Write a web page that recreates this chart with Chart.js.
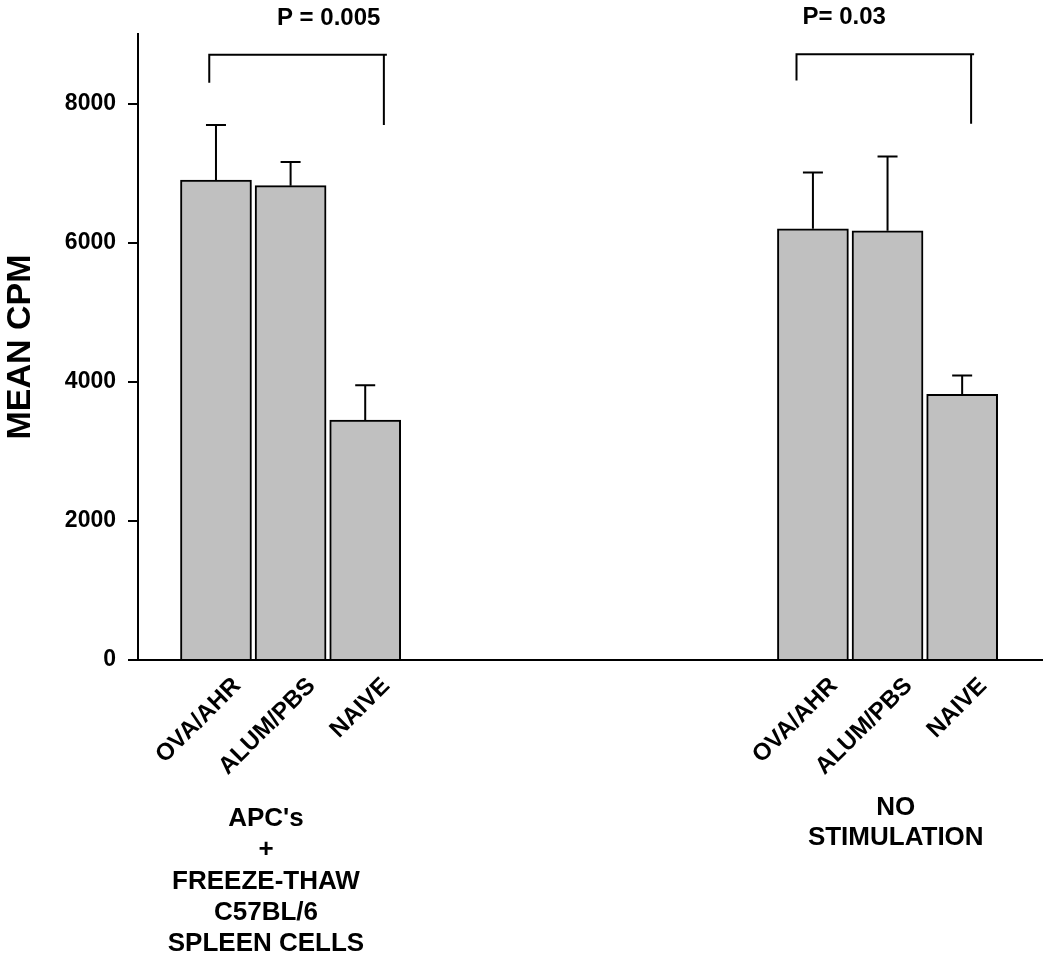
<!DOCTYPE html>
<html>
<head>
<meta charset="utf-8">
<script src="https://cdn.jsdelivr.net/npm/chart.js@4/dist/chart.umd.min.js"></script>
<style>
  html, body { margin: 0; padding: 0; background: #fff; }
  #wrap { width: 1050px; height: 957px; }
</style>
</head>
<body>
<div id="wrap"><canvas id="grafico" width="1050" height="957"></canvas></div>
<script>
// datos
const xPositions = [1, 2, 3, 9, 10, 11];
const categories = ['OVA/AHR', 'ALUM/PBS', 'NAIVE', 'OVA/AHR', 'ALUM/PBS', 'NAIVE'];
const meanCpm = [6900, 6820, 3450, 6200, 6170, 3820];
const errorCpm = [790, 340, 500, 810, 1070, 270];
const yTicks = [0, 2000, 4000, 6000, 8000];
const groupLabels = [["APC's", '+', 'FREEZE-THAW', 'C57BL/6', 'SPLEEN CELLS'], ['NO', 'STIMULATION']];
const groupCenters = [1.67, 10.11];
const pLabels = ['P = 0.005', 'P= 0.03'];
const brackets = [
    { from: 0.91, to: 3.25, top: 8700, leftEnd: 8300, rightEnd: 7690, labelX: 2.51 },
    { from: 8.78, to: 11.12, top: 8710, leftEnd: 8330, rightEnd: 7710, labelX: 9.42 }
];

const FONT = '"Liberation Sans", Arial, Helvetica, sans-serif';

// barras de error (solo hacia arriba)
const errorBars = {
    id: 'errorBars',
    afterDatasetsDraw(chart) {
        const { ctx, scales: { x, y } } = chart;
        ctx.save();
        ctx.strokeStyle = '#000';
        ctx.lineWidth = 2;
        meanCpm.forEach((v, i) => {
            const px = x.getPixelForValue(xPositions[i]);
            const y0 = y.getPixelForValue(v);
            const y1 = y.getPixelForValue(v + errorCpm[i]);
            ctx.beginPath();
            ctx.moveTo(px, y0);
            ctx.lineTo(px, y1);
            ctx.moveTo(px - 10, y1);
            ctx.lineTo(px + 10, y1);
            ctx.stroke();
        });
        ctx.restore();
    }
};

// corchetes de significancia y textos de grupo
const annotations = {
    id: 'annotations',
    afterDraw(chart) {
        const { ctx, scales: { x, y }, chartArea } = chart;
        ctx.save();
        ctx.strokeStyle = '#000';
        ctx.fillStyle = '#000';
        ctx.lineWidth = 2;
        brackets.forEach((b, i) => {
            const xl = x.getPixelForValue(b.from);
            const xr = x.getPixelForValue(b.to);
            const yt = y.getPixelForValue(b.top);
            ctx.beginPath();
            ctx.moveTo(xl, y.getPixelForValue(b.leftEnd));
            ctx.lineTo(xl, yt);
            ctx.lineTo(xr + 3, yt);
            ctx.moveTo(xr, yt);
            ctx.lineTo(xr, y.getPixelForValue(b.rightEnd));
            ctx.stroke();
            ctx.font = 'bold 24px ' + FONT;
            ctx.textAlign = 'center';
            ctx.textBaseline = 'alphabetic';
            ctx.fillText(pLabels[i], x.getPixelForValue(b.labelX), yt - 30);
        });

        ctx.font = 'bold 26px ' + FONT;
        ctx.textAlign = 'center';
        ctx.textBaseline = 'alphabetic';
        const firstLine = [166, 155];
        const spacing = [31.3, 30];
        groupLabels.forEach((lines, g) => {
            const cx = x.getPixelForValue(groupCenters[g]);
            lines.forEach((t, k) => {
                ctx.fillText(t, cx, chartArea.bottom + firstLine[g] + k * spacing[g]);
            });
        });
        ctx.restore();
    }
};

const chart = new Chart(document.getElementById('grafico'), {
    type: 'bar',
    data: {
        datasets: [{
            data: xPositions.map((p, i) => ({ x: p, y: meanCpm[i] })),
            backgroundColor: '#c0c0c0',
            borderColor: '#000',
            borderWidth: 2,
            barThickness: 71
        }]
    },
    options: {
        responsive: false,
        animation: false,
        layout: { padding: { top: 34, right: 8, left: 0, bottom: 0 } },
        plugins: { legend: { display: false }, tooltip: { enabled: false } },
        scales: {
            x: {
                type: 'linear',
                offset: false,
                min: -0.045,
                max: 12.07,
                afterBuildTicks: s => { s.ticks = xPositions.map(v => ({ value: v })); },
                afterFit: s => { s.height = 297; },
                grid: { display: false, drawTicks: false },
                border: { display: true, color: '#000', width: 2 },
                ticks: {
                    autoSkip: false,
                    maxRotation: 45,
                    minRotation: 45,
                    padding: 12,
                    labelOffset: 21,
                    color: '#000',
                    font: { family: FONT, size: 24, weight: 'bold' },
                    callback: (v) => categories[xPositions.indexOf(v)] || ''
                }
            },
            y: {
                min: 0,
                max: 9000,
                afterBuildTicks: s => { s.ticks = yTicks.map(v => ({ value: v })); },
                afterFit: s => { s.width = 138; },
                grid: { drawOnChartArea: false, drawTicks: true, tickLength: 10, color: '#000', lineWidth: 2 },
                border: { display: true, color: '#000', width: 2 },
                ticks: {
                    padding: 12,
                    color: '#000',
                    font: { family: FONT, size: 23, weight: 'bold' },
                    callback: v => String(v)
                },
                title: {
                    display: true,
                    text: 'MEAN CPM',
                    color: '#000',
                    padding: 0,
                    font: { family: FONT, size: 34, weight: 'bold' }
                }
            }
        }
    },
    plugins: [errorBars, annotations]
});
</script>
</body>
</html>
